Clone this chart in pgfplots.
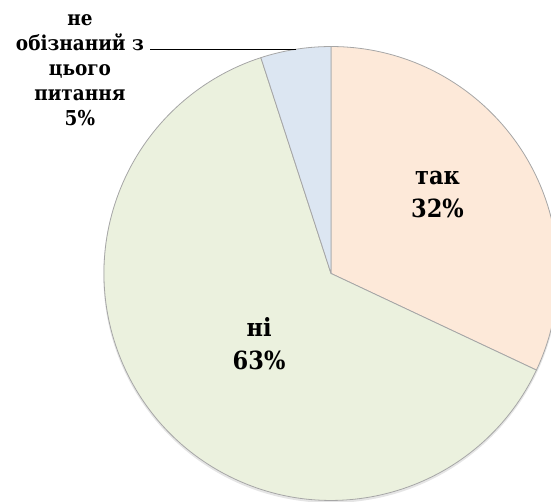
\documentclass[border=0pt]{standalone}
\usepackage{pgfplots}
\usepackage{pgfplotstable}
\pgfplotsset{compat=1.18}
\usepackage{fontspec}
\setmainfont{DejaVu Serif Condensed}
\definecolor{pieA}{HTML}{FDE9D9}
\definecolor{pieB}{HTML}{EBF1DE}
\definecolor{pieC}{HTML}{DCE6F2}
\definecolor{edge}{HTML}{A6A6A6}
\pgfplotstableread{
value
32
63
5
}\piedata
\begin{document}
\begin{tikzpicture}
\pgfplotstablegetelem{0}{value}\of\piedata \let\va\pgfplotsretval
\pgfplotstablegetelem{1}{value}\of\piedata \let\vb\pgfplotsretval
\pgfplotstablegetelem{2}{value}\of\piedata \let\vc\pgfplotsretval
\pgfmathsetmacro\aA{90}
\pgfmathsetmacro\aB{90-3.6*\va}
\pgfmathsetmacro\aC{\aB-3.6*\vb}
\pgfmathsetmacro\aD{\aC-3.6*\vc}
\begin{axis}[name=ax,
  width=551bp, height=502bp, scale only axis,
  xmin=-1.458, xmax=0.969, ymin=-1.007, ymax=1.205,
  hide axis, clip=true]
\fill[black!20, opacity=0.5] (axis cs:0,-0.008) circle[radius=1.003];
\filldraw[fill=pieA, draw=edge, line width=0.8pt, line join=round]
  (axis cs:0,0) -- (axis cs:{cos(\aA)},{sin(\aA)}) arc[start angle=\aA, end angle=\aB, radius=1] -- cycle;
\filldraw[fill=pieB, draw=edge, line width=0.8pt, line join=round]
  (axis cs:0,0) -- (axis cs:{cos(\aB)},{sin(\aB)}) arc[start angle=\aB, end angle=\aC, radius=1] -- cycle;
\filldraw[fill=pieC, draw=edge, line width=0.8pt, line join=round]
  (axis cs:0,0) -- (axis cs:{cos(\aC)},{sin(\aC)}) arc[start angle=\aC, end angle=\aD, radius=1] -- cycle;
\draw[black, line width=0.8pt] (axis cs:-0.797,0.988) -- (axis cs:-0.154,0.988);
\node[font=\fontsize{25bp}{33bp}\selectfont\bfseries, align=center] at (axis cs:0.469,0.35) {так\\32\%};
\node[font=\fontsize{25bp}{33bp}\selectfont\bfseries, align=center] at (axis cs:-0.317,-0.31) {ні\\63\%};
\node[font=\fontsize{20.5bp}{25bp}\selectfont\bfseries, align=center] at (axis cs:-1.106,0.896) {не\\обізнаний з\\цього\\питання\\5\%};
\end{axis}
\pgfresetboundingbox
\path (ax.south west) rectangle (ax.north east);
\end{tikzpicture}
\end{document}
